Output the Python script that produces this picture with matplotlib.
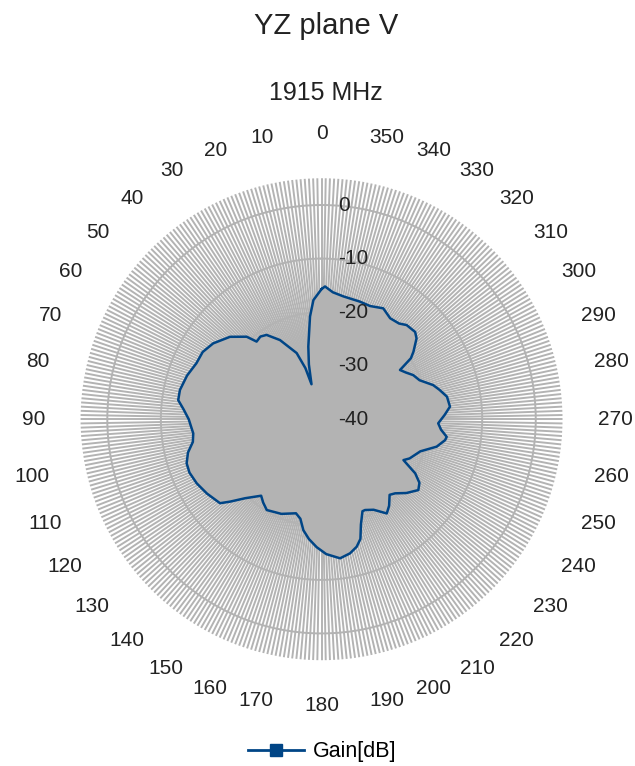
import matplotlib
matplotlib.use('Agg')
import matplotlib.pyplot as plt
import numpy as np
from matplotlib.transforms import offset_copy

plt.rcParams['font.family'] = ['Liberation Sans', 'DejaVu Sans']

# measured pattern (angle in degrees, gain in dB)
angle_deg = [0, 3.9, 6.4, 10.3, 13, 16, 17.5, 20.6, 27.7, 33.1, 36.5, 39.9, 42.2,
             48, 55, 60.5, 65.9, 72, 78.3, 82.4, 86, 90, 96.3, 100, 104, 108.1,
             112, 117.2, 123, 129.6, 132, 136, 141.7, 145, 148.9, 157, 164.8, 168,
             170.7, 174, 177.8, 182, 187.6, 192, 195.4, 198, 200.5, 204, 205.6,
             209.9, 214.7, 218, 222, 224.8, 229, 233.8, 237, 240, 243.5, 246, 252,
             256.6, 260.4, 262, 265, 268, 272, 275.6, 280.2, 284, 287, 291.7,
             295.7, 299, 302.1, 304.3, 306.3, 310.4, 313, 317.9, 321, 325.8,
             330.9, 336.8, 342, 349.9, 354.9, 358.5]
gain_db = [-15.7, -17.7, -20.7, -26.2, -29.5, -33.2, -30.0, -26.8, -23.3, -21.2,
           -20.8, -21.1, -19.2, -17.0, -15.3, -14.5, -14.4, -13.6, -13.0, -13.0,
           -14.2, -15.2, -15.9, -15.6, -14.3, -13.5, -13.4, -13.8, -14.5, -15.4,
           -17.0, -19.5, -21.8, -21.0, -20.2, -20.8, -21.8, -21.0, -19.0, -17.5,
           -16.1, -14.8, -13.8, -14.4, -15.3, -16.5, -19.0, -21.2, -21.2, -20.5,
           -18.6, -19.5, -21.0, -20.5, -19.0, -17.6, -18.2, -19.8, -22.9, -22.0,
           -20.6, -17.9, -16.6, -16.4, -17.6, -18.2, -17.0, -15.9, -16.2, -17.3,
           -18.2, -20.3, -21.0, -22.0, -22.7, -19.8, -18.7, -16.7, -16.1, -16.3,
           -17.0, -17.2, -16.3, -17.0, -16.9, -16.7, -16.2, -15.2]

r_ticks = [-40, -30, -20, -10, 0]
theta_labels = list(range(0, 360, 10))

fig = plt.figure(figsize=(6.35, 7.66), dpi=100)
ax = fig.add_axes([0.1268, 0.1381, 0.7591, 0.6292], projection='polar')
ax.set_theta_zero_location('N')
ax.set_theta_direction(1)
ax.set_ylim(-40, 5)

# dense angular grid, one line per degree
ax.set_xticks(np.radians(np.arange(0, 360, 1)))
ax.set_xticklabels([])
ax.set_yticks(r_ticks)
ax.set_yticklabels([])
ax.grid(axis='x', color='#b3b3b3', linewidth=1.4)
ax.grid(axis='y', color='#b3b3b3', linewidth=1.4)
ax.spines['polar'].set_visible(False)
ax.tick_params(length=0)

th = np.radians(angle_deg + [angle_deg[0]])
rr = np.array(gain_db + [gain_db[0]])
ax.fill(th, rr, color='#b3b3b3', zorder=2, linewidth=0)
ax.plot(th, rr, color='#004586', linewidth=1.8, zorder=3)

# radial labels
tr = offset_copy(ax.transData, fig=fig, x=17, y=0, units='dots')
for v in r_ticks:
    ax.text(0, v, str(v), transform=tr, ha='left', va='center', fontsize=15,
            color='#222222', zorder=5)

# angle labels
for a in theta_labels:
    s, c = np.sin(np.radians(a)), np.cos(np.radians(a))
    ha = 'right' if s > 1e-6 else ('left' if s < -1e-6 else 'center')
    va = 'bottom' if c > 1e-6 else ('top' if c < -1e-6 else 'center')
    ax.text(np.radians(a), 11.6, str(a), ha=ha, va=va, fontsize=15,
            color='#222222', clip_on=False)

fig.text(326 / 635, 1 - 33.5 / 766, 'YZ plane V', ha='center', va='baseline',
         fontsize=21, color='#222222')
fig.text(326 / 635, 1 - 100 / 766, '1915 MHz', ha='center', va='baseline',
         fontsize=18, color='#222222')

h = plt.Line2D([], [], color='#004586', linewidth=2, marker='s', markersize=8)
fig.legend([h], ['Gain[dB]'], loc='center', bbox_to_anchor=(322 / 635, 1 - 752 / 766),
           frameon=False, fontsize=15.5, handlelength=2.6, handletextpad=0.4)

fig.savefig('out.png', dpi=100, facecolor='white')
